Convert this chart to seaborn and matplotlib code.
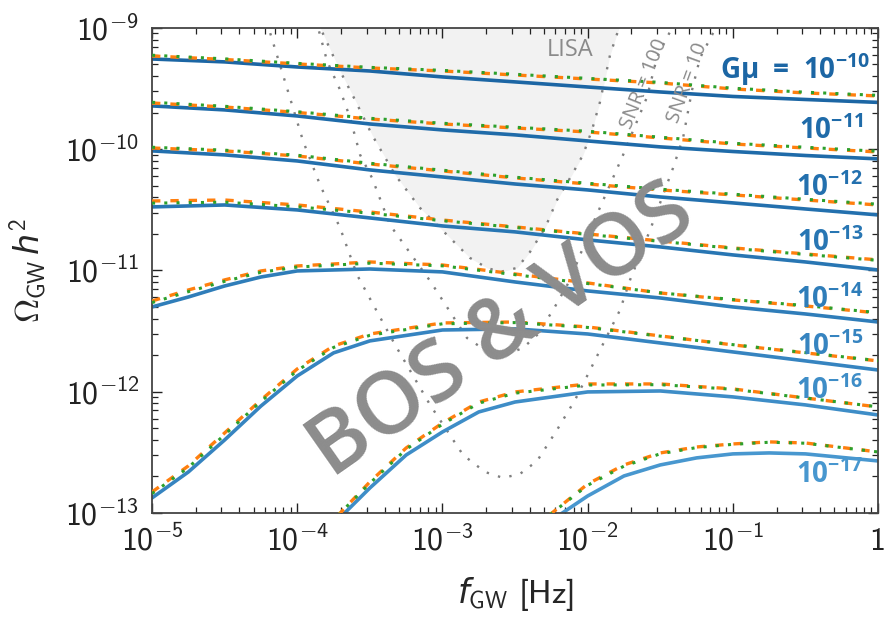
import numpy as np
import matplotlib
matplotlib.use("Agg")
import matplotlib.pyplot as plt
import matplotlib.transforms as mtransforms
import seaborn as sns

# ---------------- data: log10(f/Hz) and log10(Omega_GW h^2) ----------------
f_main = [-5, -4.5, -4, -3.5, -3, -2.5, -2, -1.5, -1, -0.5, 0]

a_bos = [-9.256, -9.280, -9.322, -9.355, -9.404, -9.445, -9.487, -9.528, -9.565, -9.590, -9.614]
a_vos1 = [-9.231, -9.260, -9.297, -9.330, -9.355, -9.388, -9.421, -9.454, -9.503, -9.536, -9.561]
a_vos2 = [-9.225, -9.255, -9.292, -9.325, -9.350, -9.382, -9.416, -9.449, -9.497, -9.530, -9.556]

b_bos = [-9.643, -9.676, -9.726, -9.792, -9.841, -9.882, -9.932, -9.981, -10.019, -10.052, -10.080]
b_vos1 = [-9.619, -9.652, -9.697, -9.751, -9.792, -9.825, -9.858, -9.907, -9.957, -9.990, -10.023]
b_vos2 = [-9.613, -9.646, -9.691, -9.745, -9.786, -9.819, -9.852, -9.901, -9.951, -9.984, -10.017]

c_bos = [-10.014, -10.047, -10.097, -10.171, -10.229, -10.287, -10.336, -10.394, -10.443, -10.493, -10.542]
c_vos1 = [-9.990, -10.014, -10.056, -10.122, -10.179, -10.237, -10.287, -10.336, -10.377, -10.419, -10.460]
c_vos2 = [-9.984, -10.008, -10.050, -10.116, -10.173, -10.231, -10.281, -10.330, -10.371, -10.413, -10.454]

d_bos = [-10.476, -10.460, -10.501, -10.567, -10.633, -10.682, -10.748, -10.806, -10.872, -10.930, -10.996]
d_vos1 = [-10.427, -10.419, -10.460, -10.518, -10.584, -10.641, -10.699, -10.757, -10.814, -10.864, -10.913]
d_vos2 = [-10.445, -10.437, -10.475, -10.528, -10.590, -10.645, -10.703, -10.760, -10.818, -10.868, -10.917]

f_e = [-5, -4.75, -4.5, -4.25, -4, -3.5, -3, -2.5, -2, -1.5, -1, -0.5, 0]
e_bos = [-11.301, -11.219, -11.128, -11.054, -11.004, -10.988, -11.012, -11.095, -11.169, -11.227, -11.301, -11.359, -11.425]
e_vos1 = [-11.252, -11.161, -11.078, -11.004, -10.963, -10.930, -10.955, -11.029, -11.103, -11.186, -11.243, -11.293, -11.351]
e_vos2 = [-11.265, -11.175, -11.090, -11.015, -10.972, -10.940, -10.962, -11.035, -11.108, -11.185, -11.240, -11.290, -11.348]

f_f = [-5, -4.75, -4.5, -4.25, -4, -3.75, -3.5, -3, -2.5, -2, -1.5, -1, -0.5, 0]
f_bos = [-12.876, -12.662, -12.398, -12.118, -11.870, -11.680, -11.581, -11.491, -11.482, -11.524, -11.598, -11.672, -11.746, -11.821]
f_vos1 = [-12.827, -12.612, -12.340, -12.068, -11.812, -11.623, -11.524, -11.433, -11.425, -11.466, -11.540, -11.614, -11.680, -11.746]
f_vos2 = [-12.840, -12.625, -12.355, -12.080, -11.825, -11.635, -11.535, -11.440, -11.430, -11.470, -11.542, -11.612, -11.678, -11.744]

f_g_bos = [-3.69, -3.5, -3.25, -3, -2.75, -2.5, -2, -1.5, -1, -0.5, 0]
g_bos = [-13.02, -12.794, -12.522, -12.332, -12.167, -12.085, -12.002, -11.994, -12.043, -12.109, -12.192]
f_g_vos = [-3.72, -3.5, -3.25, -3, -2.75, -2.5, -2, -1.5, -1, -0.5, 0]
g_vos1 = [-13.02, -12.744, -12.464, -12.258, -12.085, -12.002, -11.936, -11.936, -11.977, -12.052, -12.126]
g_vos2 = [-13.02, -12.755, -12.475, -12.268, -12.095, -12.012, -11.945, -11.942, -11.980, -12.052, -12.125]

f_h_bos = [-2.18, -2, -1.75, -1.5, -1.25, -1, -0.75, -0.5, 0]
h_bos = [-13.005, -12.860, -12.695, -12.604, -12.546, -12.513, -12.505, -12.513, -12.571]
f_h_vos = [-2.26, -2, -1.75, -1.5, -1.25, -1, -0.75, -0.5, 0]
h_vos1 = [-13.014, -12.761, -12.604, -12.505, -12.456, -12.431, -12.414, -12.423, -12.497]
h_vos2 = [-13.014, -12.772, -12.614, -12.512, -12.461, -12.434, -12.417, -12.425, -12.497]

# LISA sensitivity region and power-law sensitivity curves
lisa_f = [-3.86, -3.705, -3.602, -3.485, -3.326, -3.154, -2.982, -2.810, -2.693, -2.603,
          -2.486, -2.397, -2.293, -2.211, -2.121, -2.032, -1.970, -1.915, -1.846, -1.77]
lisa_om = [-8.95, -9.355, -9.594, -9.882, -10.212, -10.485, -10.691, -10.897, -10.979, -11.012,
           -10.979, -10.847, -10.649, -10.419, -10.237, -10.047, -9.841, -9.610, -9.223, -8.95]

snr10_f = [-4.21, -4.098, -3.960, -3.843, -3.705, -3.588, -3.326, -3.085, -2.858, -2.707, -2.583,
           -2.466, -2.348, -2.211, -2.087, -1.983, -1.880, -1.777, -1.708, -1.570, -1.412, -1.343,
           -1.281, -1.226, -1.136, -1.116]
snr10_om = [-8.95, -9.388, -9.932, -10.295, -10.649, -11.037, -11.614, -12.109, -12.522, -12.662, -12.711,
            -12.678, -12.571, -12.315, -12.068, -11.821, -11.573, -11.326, -11.078, -10.666, -10.155, -9.907,
            -9.511, -9.247, -9.041, -8.95]

snr100_f = [-3.871, -3.795, -3.705, -3.636, -3.567, -3.485, -3.361, -3.085, -2.831, -2.624, -2.445,
            -2.348, -2.238, -2.121, -1.983, -1.756, -1.591, -1.522, -1.398]
snr100_om = [-8.934, -9.272, -9.511, -9.742, -10.047, -10.237, -10.625, -11.087, -11.557, -11.722, -11.639,
             -11.532, -11.326, -11.078, -10.666, -10.047, -9.569, -9.239, -8.950]

tension_labels = [r"$\mathbf{G\mu\ =\ 10^{-10}}$", r"$\mathbf{10^{-11}}$", r"$\mathbf{10^{-12}}$",
                  r"$\mathbf{10^{-13}}$", r"$\mathbf{10^{-14}}$", r"$\mathbf{10^{-15}}$",
                  r"$\mathbf{10^{-16}}$", r"$\mathbf{10^{-17}}$"]
x_tick_exp = [-5, -4, -3, -2, -1, 0]
x_tick_labels = [r"$\mathrm{10^{-5}}$", r"$\mathrm{10^{-4}}$", r"$\mathrm{10^{-3}}$",
                 r"$\mathrm{10^{-2}}$", r"$\mathrm{10^{-1}}$", r"$\mathrm{1}$"]
y_tick_exp = [-13, -12, -11, -10, -9]
y_tick_labels = [r"$\mathrm{10^{-13}}$", r"$\mathrm{10^{-12}}$", r"$\mathrm{10^{-11}}$",
                 r"$\mathrm{10^{-10}}$", r"$\mathrm{10^{-9}}$"]

# ---------------- style ----------------
sns.set_theme(style="ticks")
plt.rcParams.update({
    "mathtext.fontset": "custom",
    "mathtext.rm": "cmss10",
    "mathtext.sf": "cmss10",
    "mathtext.it": "DejaVu Sans:italic",
    "mathtext.bf": "Open Sans:bold",
    "axes.unicode_minus": True,
})
plt.rcParams["font.family"] = ["Open Sans", "DejaVu Sans"]

blue_shades = ["#1c66a4", "#1f6ba9", "#2370ae", "#2876b3", "#2f7db9", "#3684c0", "#3e8dc7", "#4897cf"]
orange = "#ff7f0e"
green = "#2ca02c"
grey = "#7f7f7f"

fig = plt.figure(figsize=(8.84, 6.21), dpi=100)
ax = fig.add_axes([0.172, 0.174, 0.8213, 0.781])
ax.set_xscale("log")
ax.set_yscale("log")

p = lambda v: 10.0 ** np.asarray(v, dtype=float)

# LISA region
ax.fill_between(p(lisa_f), p(lisa_om), 1e-8, color="#f2f2f2", lw=0, zorder=0.5)
for fx, oy in [(lisa_f, lisa_om), (snr100_f, snr100_om), (snr10_f, snr10_om)]:
    sns.lineplot(x=p(fx), y=p(oy), ax=ax, color=grey, lw=1.7, linestyle=(0, (1, 4)),
                 estimator=None, zorder=1)

curves = [
    (f_main, a_bos, f_main, a_vos1, a_vos2),
    (f_main, b_bos, f_main, b_vos1, b_vos2),
    (f_main, c_bos, f_main, c_vos1, c_vos2),
    (f_main, d_bos, f_main, d_vos1, d_vos2),
    (f_e, e_bos, f_e, e_vos1, e_vos2),
    (f_f, f_bos, f_f, f_vos1, f_vos2),
    (f_g_bos, g_bos, f_g_vos, g_vos1, g_vos2),
    (f_h_bos, h_bos, f_h_vos, h_vos1, h_vos2),
]
for i, (fb, ob, fv, ov1, ov2) in enumerate(curves):
    sns.lineplot(x=p(fb), y=p(ob), ax=ax, color=blue_shades[i], lw=2.6, estimator=None, zorder=2)
    sns.lineplot(x=p(fv), y=p(ov1), ax=ax, color=orange, lw=2.4, linestyle=(0, (2.5, 3)),
                 estimator=None, zorder=3)
    sns.lineplot(x=p(fv), y=p(ov2), ax=ax, color=green, lw=2.2, linestyle=(0, (1, 3)),
                 estimator=None, zorder=4)

# labels for each tension
label_pos = [(-0.055, -9.346), (-0.103, -9.849), (-0.103, -10.320), (-0.103, -10.773),
             (-0.103, -11.243), (-0.103, -11.631), (-0.103, -11.994), (-0.103, -12.687)]
for i, (txt, (lx, ly)) in enumerate(zip(tension_labels, label_pos)):
    ax.text(10 ** lx, 10 ** ly, txt, ha="right", va="center", color=blue_shades[i],
            fontsize=20, zorder=6)

ax.text(10 ** -2.121, 10 ** -9.181, "LISA", ha="center", va="center", color="#8a8a8a",
        fontsize=17, zorder=6)
ax.text(10 ** -1.612, 10 ** -9.46, "SNR = 100", ha="center", va="center", color="#8a8a8a",
        fontsize=14.5, rotation=68, rotation_mode="anchor", zorder=6)
ax.text(10 ** -1.309, 10 ** -9.45, "SNR = 10", ha="center", va="center", color="#8a8a8a",
        fontsize=14.5, rotation=70, rotation_mode="anchor", zorder=6)
ax.text(10 ** -2.59, 10 ** -11.51, "BOS & VOS", ha="center", va="center", color="#8c8c8c",
        fontsize=62, fontweight="semibold", rotation=35, rotation_mode="anchor", zorder=7)

ax.set_xlim(1e-5, 1)
ax.set_ylim(1e-13, 1e-9)
ax.set_xticks(p(x_tick_exp), labels=x_tick_labels)
ax.set_yticks(p(y_tick_exp), labels=y_tick_labels)
ax.tick_params(which="both", direction="in", top=True, right=True, colors="#222222")
ax.tick_params(which="major", length=7, width=1.0, labelsize=23, pad=9)
ax.tick_params(which="minor", length=4, width=0.9)
for s in ax.spines.values():
    s.set_color("#444444")
    s.set_linewidth(1.3)

# keep the last x tick label "1" inside the figure
last = ax.get_xticklabels()[-1]
last.set_horizontalalignment("right")
last.set_transform(last.get_transform() + mtransforms.ScaledTranslation(5 / 72, 0, fig.dpi_scale_trans))

ax.set_xlabel(r"$f_{\mathrm{GW}}\ \mathrm{[Hz]}$", fontsize=24, labelpad=12)
ax.set_ylabel(r"$\Omega_{\mathrm{GW}}\,h^2$", fontsize=24, labelpad=12)

fig.savefig("out.png", dpi=100)
